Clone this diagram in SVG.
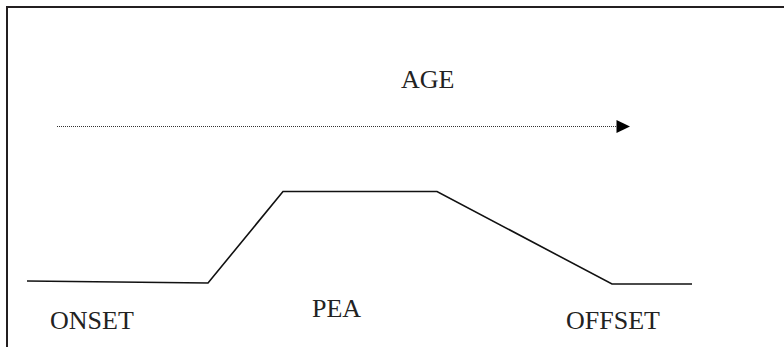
<svg xmlns="http://www.w3.org/2000/svg" width="784" height="347" viewBox="0 0 784 347">
  <style>
    .frame { fill: none; stroke: #231f20; stroke-width: 2; }
    .curve { fill: none; stroke: #111; stroke-width: 1.6; stroke-linejoin: miter; }
    .axis { fill: none; stroke: #333; stroke-width: 1.2; stroke-dasharray: 1 1; }
    .label { font-family: "Liberation Serif", "Times New Roman", serif; font-size: 26px; fill: #222; }
  </style>
  <defs>
    <marker id="arrow" markerUnits="userSpaceOnUse" markerWidth="14" markerHeight="14" refX="13" refY="6.5" orient="auto">
      <path d="M0,0 L13,6.5 L0,13 Z" fill="#000"/>
    </marker>
  </defs>
  <rect width="784" height="347" fill="#fff"/>

  <!-- outer frame: top and left edges -->
  <path class="frame" d="M7,347 V7 H784"/>

  <g id="age">
    <text class="label" x="401" y="88" font-size="25">AGE</text>
  </g>

  <g id="connectors">
    <!-- age axis -->
    <line class="axis" x1="57" y1="126.5" x2="617" y2="126.5"/>
    <path d="M616.5,120 L630,126.5 L616.5,133 Z" fill="#000"/>
    <!-- onset / peak / offset profile -->
    <polyline class="curve" points="27,281 208,283 283,191.5 437,191.5 612,284 692,284"/>
  </g>

  <g id="onset">
    <text class="label" x="50" y="329">ONSET</text>
  </g>
  <g id="peak">
    <text class="label" x="312" y="317">PEA</text>
  </g>
  <g id="offset">
    <text class="label" x="566" y="329">OFFSET</text>
  </g>
</svg>
